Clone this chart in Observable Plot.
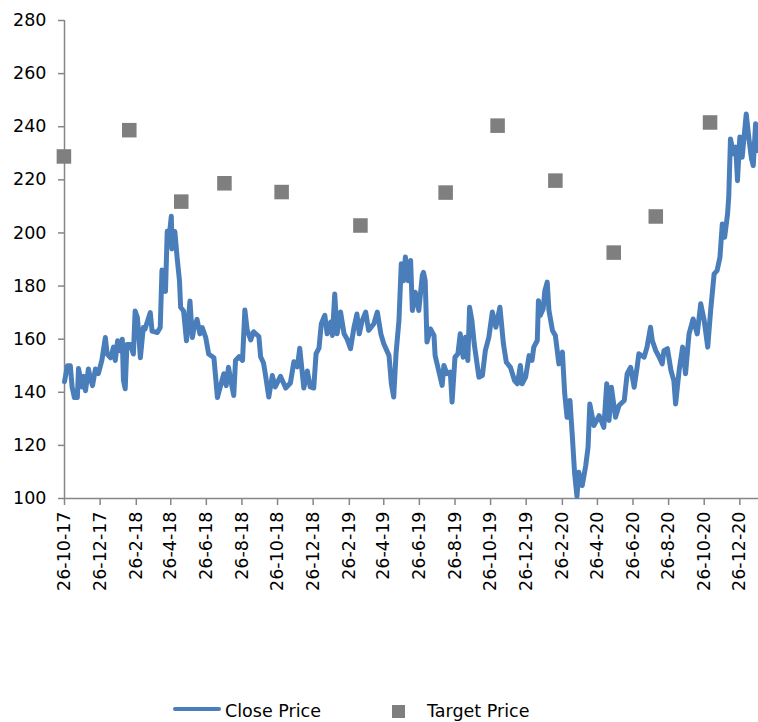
<!DOCTYPE html>
<html>
<head>
<meta charset="utf-8">
<script src="https://cdn.jsdelivr.net/npm/d3@7"></script>
<script src="https://cdn.jsdelivr.net/npm/@observablehq/plot@0.6"></script>
<style>
  html, body { margin: 0; padding: 0; background: #fff; }
  body { width: 758px; height: 722px; overflow: hidden; font-family: "DejaVu Sans", sans-serif; }
  #legend { position: relative; width: 758px; height: 102px; font-size: 17.5px; color: #000; }
  #legend .t { position: absolute; top: 81px; line-height: 20px; white-space: nowrap; }
  #legend .ln { position: absolute; left: 173px; top: 87px; width: 48px; height: 4px; background: #4a7ebb; border-radius: 2px; }
  #legend .sq { position: absolute; left: 392px; top: 85px; width: 13px; height: 13px; background: #7f7f7f; }
</style>
</head>
<body>
<div id="chart"></div>
<div id="legend">
  <span class="ln"></span><span class="t" style="left:225px">Close Price</span>
  <span class="sq"></span><span class="t" style="left:427px">Target Price</span>
</div>
<script>
const closeDates = [
"2017-10-26","2017-10-31","2017-11-05","2017-11-08","2017-11-12","2017-11-17","2017-11-19","2017-11-25","2017-11-28","2017-12-01","2017-12-06","2017-12-09","2017-12-13","2017-12-18","2017-12-23","2017-12-29",
"2018-01-04","2018-01-07","2018-01-13","2018-01-18","2018-01-21","2018-01-25","2018-01-30","2018-02-02","2018-02-04","2018-02-07","2018-02-10","2018-02-16","2018-02-21","2018-02-24","2018-02-28",
"2018-03-05","2018-03-10","2018-03-13","2018-03-22","2018-03-25","2018-04-03","2018-04-08","2018-04-11","2018-04-17","2018-04-20","2018-04-22","2018-04-27","2018-04-28","2018-05-03","2018-05-07","2018-05-11","2018-05-13","2018-05-18","2018-05-23","2018-05-29",
"2018-06-02","2018-06-05","2018-06-10","2018-06-15","2018-06-19","2018-06-25","2018-06-30","2018-07-09","2018-07-15","2018-07-21","2018-07-26","2018-07-30","2018-08-03","2018-08-07","2018-08-12","2018-08-15","2018-08-21","2018-08-27","2018-08-31",
"2018-09-04","2018-09-10","2018-09-15","2018-09-24","2018-09-27","2018-10-02","2018-10-05","2018-10-11","2018-10-17","2018-10-22","2018-10-31","2018-11-09","2018-11-17","2018-11-23","2018-11-29","2018-12-03","2018-12-10","2018-12-16","2018-12-21","2018-12-27","2018-12-31",
"2019-01-05","2019-01-09","2019-01-15","2019-01-19","2019-01-25","2019-01-28","2019-02-01","2019-02-05","2019-02-11","2019-02-17","2019-02-22","2019-02-28","2019-03-06","2019-03-11","2019-03-15","2019-03-20","2019-03-26","2019-03-31","2019-04-09","2019-04-15","2019-04-21","2019-04-26",
"2019-05-05","2019-05-09","2019-05-13","2019-05-17","2019-05-22","2019-05-26","2019-05-30","2019-06-02","2019-06-07","2019-06-11","2019-06-14","2019-06-19","2019-06-25","2019-07-01","2019-07-03","2019-07-06","2019-07-09","2019-07-15","2019-07-21","2019-07-23","2019-07-29",
"2019-08-04","2019-08-07","2019-08-12","2019-08-18","2019-08-21","2019-08-26","2019-08-31","2019-09-04","2019-09-09","2019-09-13","2019-09-17","2019-09-20","2019-09-24","2019-09-28",
"2019-10-06","2019-10-12","2019-10-17","2019-10-23","2019-10-29","2019-11-04","2019-11-11","2019-11-17","2019-11-22","2019-11-29","2019-12-06","2019-12-11","2019-12-16","2019-12-19","2019-12-25","2019-12-31",
"2020-01-05","2020-01-08","2020-01-14","2020-01-16","2020-01-19","2020-01-24","2020-01-27","2020-01-31","2020-02-03","2020-02-09","2020-02-14","2020-02-20","2020-02-26",
"2020-03-01","2020-03-05","2020-03-10","2020-03-14","2020-03-18","2020-03-22","2020-03-25","2020-03-31","2020-04-06","2020-04-10","2020-04-13","2020-04-20","2020-04-29",
"2020-05-07","2020-05-12","2020-05-16","2020-05-20","2020-05-27","2020-06-02","2020-06-11","2020-06-16","2020-06-22","2020-06-28","2020-07-03","2020-07-06","2020-07-15","2020-07-20","2020-07-26","2020-07-29",
"2020-08-04","2020-08-10","2020-08-15","2020-08-18","2020-08-24","2020-08-30","2020-09-04","2020-09-07","2020-09-13","2020-09-19","2020-09-24","2020-09-30","2020-10-07","2020-10-14","2020-10-20","2020-10-26",
"2020-11-01","2020-11-06","2020-11-12","2020-11-17","2020-11-22","2020-11-26","2020-11-30","2020-12-05","2020-12-07","2020-12-10","2020-12-15","2020-12-19","2020-12-22","2020-12-26","2020-12-30","2021-01-06","2021-01-11","2021-01-15","2021-01-18","2021-01-22","2021-01-26"
];
const closeValues = [
144,150,150,142,138,138,149,142,146,140.6,148.8,145.6,142.5,148.8,147,152,
160.6,154.4,153,157,152,159.4,155.6,160,144.4,141.3,158,158,154.4,170.6,168,
153,164.4,163.8,170,163,162.5,164.4,186,178,200.6,195.6,206.3,194,200.6,190.6,182,172,170.6,159.4,174.4,
160.6,164.4,167.5,162,164.4,160.6,154.4,153,138,143,147,142.5,149.4,144.4,138.8,152,153.4,152,171,
163.4,159.7,162.8,161,153.4,151,147,138.2,146.3,142,146,141.6,143.5,151.5,149.6,156.6,141.6,148,142,141.6,154.5,
156.6,165.8,169,162,166.4,161.4,177,162,170.2,162,160.1,156.4,164.5,169.5,162,167,170.2,163.3,165.8,170.2,162,158.3,
153.8,143.2,138.2,154.5,167,188.4,182,190.9,182,189.6,170.8,177.7,170.8,184,185.2,182,158.9,163.9,161.4,153.8,148.2,
142.6,150.1,147,147.6,136.3,153.2,154.5,162,153.2,160.7,152,172,167,158.2,
145.7,146.3,155.7,160.7,170.2,164.5,172,158.2,151.3,149.4,144.4,143.2,150.1,143.2,145.7,153.8,
152,157,159.5,174.5,168.9,171.4,178.3,181.5,170.8,163.3,161.4,150.7,155.1,
139.4,130.6,136.9,123.7,109.3,100.8,109.9,104.9,112.4,119.3,135.6,127.5,131.2,
126.8,143.2,129.4,141.9,130.6,135,136.9,147,149.4,141.9,149.4,154.5,153.2,157,164.5,159.5,
155.7,153.2,150.7,155.7,156.4,148.2,144.4,135.6,148.2,157,147,162,167.6,162,173.3,167,
157,170.8,184.6,185.8,190.9,203.4,198.4,207.2,213.5,235.4,229.8,232.3,219.7,236.1,228.5,244.8,234.8,227.9,225.4,241.1,231
];
const targetDates = ["2017-10-25","2018-02-14","2018-05-14","2018-07-27","2018-11-02","2019-03-17","2019-08-10","2019-11-07","2020-02-14","2020-05-24","2020-08-04","2020-11-05"];
const targetValues = [228.8,238.7,211.8,218.7,215.4,202.8,215.2,240.4,219.7,192.6,206.2,241.6];
const tickDates = ["2017-10-26","2017-12-26","2018-02-26","2018-04-26","2018-06-26","2018-08-26","2018-10-26","2018-12-26","2019-02-26","2019-04-26","2019-06-26","2019-08-26","2019-10-26","2019-12-26","2020-02-26","2020-04-26","2020-06-26","2020-08-26","2020-10-26","2020-12-26"];
const tickLabels = ["26-10-17","26-12-17","26-2-18","26-4-18","26-6-18","26-8-18","26-10-18","26-12-18","26-2-19","26-4-19","26-6-19","26-8-19","26-10-19","26-12-19","26-2-20","26-4-20","26-6-20","26-8-20","26-10-20","26-12-20"];
const yTicks = [100,120,140,160,180,200,220,240,260,280];

const parse = d3.utcParse("%Y-%m-%d");
const close = closeDates.map((d, i) => ({date: parse(d), value: closeValues[i]}));
const targets = targetDates.map((d, i) => ({date: parse(d), value: targetValues[i]}));
const ticks = tickDates.map(parse);
const labelOf = new Map(ticks.map((t, i) => [+t, tickLabels[i]]));
const xDomain = [parse("2017-10-26"), parse("2021-01-27")];

const axisGray = "#868686";
const chart = Plot.plot({
  width: 758,
  height: 620,
  marginLeft: 64,
  marginRight: 0,
  marginTop: 20,
  marginBottom: 122,
  style: {fontFamily: "DejaVu Sans, sans-serif", fontSize: "17.5px", background: "#fff", overflow: "visible"},
  x: {type: "utc", domain: xDomain},
  y: {domain: [100, 280]},
  marks: [
    Plot.axisY({ticks: yTicks, tickSize: 6, tickPadding: 12, stroke: axisGray, color: "#000", fill: "#000", strokeWidth: 1.5, label: null, fontSize: 17.5}),
    Plot.axisX({ticks: ticks, tickSize: 7, tickPadding: 6, tickRotate: -90, tickFormat: d => labelOf.get(+d), stroke: axisGray, color: "#000", fill: "#000", strokeWidth: 1.5, label: null, fontSize: 17.5}),
    Plot.ruleX([xDomain[0]], {y1: 100, y2: 280, stroke: axisGray, strokeWidth: 1.5}),
    Plot.ruleY([100], {stroke: axisGray, strokeWidth: 1.5}),
    Plot.line(close, {x: "date", y: "value", stroke: "#4a7ebb", strokeWidth: 5, strokeLinejoin: "round", strokeLinecap: "round"}),
    Plot.dot(targets, {x: "date", y: "value", symbol: "square", r: 8.2, fill: "#7f7f7f", stroke: null})
  ]
});
document.getElementById("chart").appendChild(chart);
</script>
</body>
</html>
